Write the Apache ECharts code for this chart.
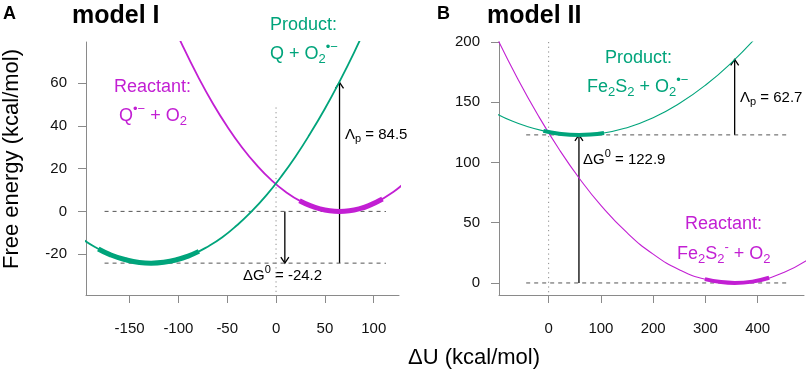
<!DOCTYPE html>
<html>
<head>
<meta charset="utf-8">
<script src="https://cdn.jsdelivr.net/npm/echarts@6/dist/echarts.min.js"></script>
<style>
html, body { margin: 0; padding: 0; background: #fff; }
#chart { width: 809px; height: 372px; }
</style>
</head>
<body>
<div id="chart"></div>
<script>
// ---- model I (panel A) ----
var aProdX = [-200, -185, -170, -155, -140, -128, -115, -100, -85, -70, -55, -40, -25, -10, 5, 20, 35, 50, 65, 80, 95];
var aProdY = [-12.4, -16.8, -20.2, -22.5, -23.9, -24.2, -23.8, -22.4, -20.0, -16.5, -12.1, -6.5, 0.0, 7.5, 16.1, 25.7, 36.4, 48.0, 60.7, 74.4, 89.2];
var aReacX = [-110, -95, -80, -65, -50, -35, -20, -5, 10, 25, 40, 55, 65, 75, 90, 105, 120, 130];
var aReacY = [91.9, 76.8, 63.1, 50.7, 39.7, 30.0, 21.7, 14.7, 9.1, 4.8, 1.9, 0.3, 0, 0.3, 1.9, 4.8, 9.1, 12.7];
var aProdSampX = [-182, -170, -155, -140, -128, -115, -100, -90, -79];
var aProdSampY = [-17.6, -20.2, -22.5, -23.9, -24.2, -23.8, -22.4, -20.9, -18.7];
var aReacSampX = [24, 35, 45, 55, 65, 75, 85, 95, 109];
var aReacSampY = [5.0, 2.7, 1.2, 0.3, 0, 0.3, 1.2, 2.7, 5.8];
var aLevels = [0, -24.2];
var aLevelRange = [-175.6, 112.5];
var aArrows = [[9, 0, -24.2], [65, -24.2, 60.3]];
var aZeroLine = [48.6, -39.1];
var aTicksX = [-150, -100, -50, 0, 50, 100];
var aTicksY = [-20, 0, 20, 40, 60];

// ---- model II (panel B) ----
var bProdX = [-100, -70, -40, -10, 20, 58, 100, 150, 200, 250, 300, 350, 400];
var bProdY = [140.5, 134.4, 129.7, 126.2, 123.9, 122.9, 124.1, 128.9, 137.1, 148.9, 164.1, 182.9, 205.2];
var bReacX = [-100, -60, -20, 20, 60, 100, 150, 200, 250, 300, 356, 400, 450, 495];
var bReacY = [204.4, 170.1, 139.0, 111.0, 86.1, 64.4, 41.7, 23.9, 11.0, 3.1, 0, 1.9, 8.7, 19.0];
var bProdSampX = [-10, 20, 58, 80, 106];
var bProdSampY = [126.2, 123.9, 122.9, 123.2, 124.5];
var bReacSampX = [299, 330, 356, 390, 422];
var bReacSampY = [3.2, 0.7, 0, 1.1, 4.3];
var bLevels = [122.9, 0];
var bLevelRange = [-43, 458];
var bArrows = [[58, 0, 122.9], [356, 122.9, 185.6]];
var bZeroLine = [200, -10];
var bTicksX = [0, 100, 200, 300, 400];
var bTicksY = [0, 50, 100, 150, 200];

var GREEN = '#00a47b';
var PURPLE = '#c21fd3';
var FONT = '"Liberation Sans", Arial, Helvetica, sans-serif';

function zip(xs, ys) {
    return xs.map(function (x, i) { return [x, ys[i]]; });
}

var ctx = document.createElement('canvas').getContext('2d');
function textW(s, size, weight) {
    ctx.font = (weight || 'normal') + ' ' + size + 'px ' + FONT;
    return ctx.measureText(s).width;
}

// text with sub/superscripts built from pieces
function richText(x, y, parts, color, size) {
    var out = [];
    var cx = x;
    parts.forEach(function (p) {
        var fs = size, dy = 0;
        if (p[1] === 'sub') { fs = Math.round(size * 0.72); dy = size * 0.28; }
        if (p[1] === 'sup') { fs = Math.round(size * 0.7); dy = -size * 0.38; }
        out.push({
            type: 'text', x: cx, y: y + dy, silent: true,
            style: {
                text: p[0], fill: color, font: fs + 'px ' + FONT,
                align: 'left', verticalAlign: 'middle',
                textAlign: 'left', textVerticalAlign: 'middle'
            }
        });
        cx += textW(p[0], fs);
    });
    return out;
}

function plainText(x, y, s, size, weight, extra) {
    var el = {
        type: 'text', x: x, y: y, silent: true,
        style: {
            text: s, fill: '#000', font: weight + ' ' + size + 'px ' + FONT,
            align: 'left', verticalAlign: 'middle',
            textAlign: 'left', textVerticalAlign: 'middle'
        }
    };
    if (extra) {
        for (var k in extra) el[k] = extra[k];
    }
    return el;
}

function arrowItem(params, api) {
    var p0 = api.coord([api.value(0), api.value(1)]);
    var p1 = api.coord([api.value(0), api.value(2)]);
    var dir = p1[1] > p0[1] ? 1 : -1;
    var h = 6, w = 4;
    return {
        type: 'group',
        children: [
            { type: 'line', shape: { x1: p0[0], y1: p0[1], x2: p1[0], y2: p1[1] },
              style: { stroke: '#000', lineWidth: 1.3 } },
            { type: 'polyline', shape: { points: [[p1[0] - w, p1[1] - dir * h], [p1[0], p1[1]], [p1[0] + w, p1[1] - dir * h]] },
              style: { stroke: '#000', fill: null, lineWidth: 1.3 } }
        ]
    };
}

function xAxisDef(idx, min, max, ticks) {
    return {
        type: 'value', gridIndex: idx, min: min, max: max,
        axisLine: { show: true, onZero: false, lineStyle: { color: '#8a8a8a', width: 1 } },
        axisTick: { show: true, length: 8, customValues: ticks, lineStyle: { color: '#8a8a8a' } },
        axisLabel: { customValues: ticks, margin: 26, color: '#111', fontSize: 15, fontFamily: FONT, showMinLabel: true, showMaxLabel: true },
        splitLine: { show: false }
    };
}

function yAxisDef(idx, min, max, ticks) {
    return {
        type: 'value', gridIndex: idx, min: min, max: max,
        axisLine: { show: true, onZero: false, lineStyle: { color: '#8a8a8a', width: 1 } },
        axisTick: { show: true, length: 8, customValues: ticks, lineStyle: { color: '#8a8a8a' } },
        axisLabel: { customValues: ticks, margin: 19, color: '#111', fontSize: 15, fontFamily: FONT },
        splitLine: { show: false }
    };
}

function lineSeries(idx, data, color, width, type) {
    return {
        type: 'line', xAxisIndex: idx, yAxisIndex: idx, data: data,
        smooth: true, showSymbol: false, silent: true, clip: true,
        lineStyle: { color: color, width: width, type: type || 'solid' }
    };
}

function levelSeries(idx, levels, range) {
    return levels.map(function (lv) {
        return {
            type: 'line', xAxisIndex: idx, yAxisIndex: idx,
            data: [[range[0], lv], [range[1], lv]],
            showSymbol: false, silent: true,
            lineStyle: { color: '#555', width: 1, type: [4, 4] }
        };
    });
}

function zeroSeries(idx, ys) {
    return {
        type: 'line', xAxisIndex: idx, yAxisIndex: idx,
        data: [[0, ys[0]], [0, ys[1]]],
        showSymbol: false, silent: true,
        lineStyle: { color: '#8a8a8a', width: 1, type: [1.2, 3.5] }
    };
}

function arrowSeries(idx, data) {
    return {
        type: 'custom', xAxisIndex: idx, yAxisIndex: idx, data: data,
        encode: { x: 0, y: [1, 2] }, renderItem: arrowItem, silent: true
    };
}

var myChart = echarts.init(document.getElementById('chart'), null, { renderer: 'canvas' });

var series = [];
series = series.concat(levelSeries(0, aLevels, aLevelRange));
series.push(zeroSeries(0, aZeroLine));
series.push(lineSeries(0, zip(aReacX, aReacY), PURPLE, 1.8));
series.push(lineSeries(0, zip(aProdX, aProdY), GREEN, 1.8));
series.push(lineSeries(0, zip(aReacSampX, aReacSampY), PURPLE, 5));
series.push(lineSeries(0, zip(aProdSampX, aProdSampY), GREEN, 5));
series.push(arrowSeries(0, aArrows));

series = series.concat(levelSeries(1, bLevels, bLevelRange));
series.push(zeroSeries(1, bZeroLine));
series.push(lineSeries(1, zip(bReacX, bReacY), PURPLE, 1.1));
series.push(lineSeries(1, zip(bProdX, bProdY), GREEN, 1.1));
series.push(lineSeries(1, zip(bReacSampX, bReacSampY), PURPLE, 4));
series.push(lineSeries(1, zip(bProdSampX, bProdSampY), GREEN, 4));
series.push(arrowSeries(1, bArrows));

var graphics = [];
graphics.push(plainText(3, 14, 'A', 18, 'bold'));
graphics.push(plainText(72, 16, 'model I', 25, 'bold'));
graphics.push(plainText(437, 14, 'B', 18, 'bold'));
graphics.push(plainText(487, 16, 'model II', 25, 'bold'));
graphics.push({
    type: 'text', x: 12, y: 159, rotation: Math.PI / 2, silent: true,
    style: { text: 'Free energy (kcal/mol)', fill: '#000', font: '22px ' + FONT,
             align: 'center', verticalAlign: 'middle', textAlign: 'center', textVerticalAlign: 'middle' }
});
graphics.push({
    type: 'text', x: 474, y: 358, silent: true,
    style: { text: '\u0394U (kcal/mol)', fill: '#000', font: '22px ' + FONT,
             align: 'center', verticalAlign: 'middle', textAlign: 'center', textVerticalAlign: 'middle' }
});

// panel A labels
graphics = graphics.concat(richText(270, 25, [['Product:', 'n']], GREEN, 18));
graphics = graphics.concat(richText(270, 54, [['Q + O', 'n'], ['2', 'sub'], ['\u2022\u2212', 'sup']], GREEN, 18));
graphics = graphics.concat(richText(114, 87, [['Reactant:', 'n']], PURPLE, 18));
graphics = graphics.concat(richText(119, 116, [['Q', 'n'], ['\u2022\u2212', 'sup'], [' + O', 'n'], ['2', 'sub']], PURPLE, 18));
graphics = graphics.concat(richText(243, 276, [['\u0394G', 'n'], ['0', 'sup'], [' = -24.2', 'n']], '#000', 15));
graphics = graphics.concat(richText(345, 135, [['\u039b', 'n'], ['p', 'sub'], [' = 84.5', 'n']], '#000', 15));

// panel B labels
graphics = graphics.concat(richText(605, 58, [['Product:', 'n']], GREEN, 18));
graphics = graphics.concat(richText(587, 87, [['Fe', 'n'], ['2', 'sub'], ['S', 'n'], ['2', 'sub'], [' + O', 'n'], ['2', 'sub'], ['\u2022\u2212', 'sup']], GREEN, 18));
graphics = graphics.concat(richText(685, 224, [['Reactant:', 'n']], PURPLE, 18));
graphics = graphics.concat(richText(677, 254, [['Fe', 'n'], ['2', 'sub'], ['S', 'n'], ['2', 'sub'], ['-', 'sup'], [' + O', 'n'], ['2', 'sub']], PURPLE, 18));
graphics = graphics.concat(richText(583, 160, [['\u0394G', 'n'], ['0', 'sup'], [' = 122.9', 'n']], '#000', 15));
graphics = graphics.concat(richText(740, 98, [['\u039b', 'n'], ['p', 'sub'], [' = 62.7', 'n']], '#000', 15));

var option = {
    animation: false,
    backgroundColor: '#fff',
    grid: [
        { left: 86, top: 42, width: 313, height: 253 },
        { left: 499, top: 42, width: 305, height: 253 }
    ],
    xAxis: [
        xAxisDef(0, -194.6, 125.9, aTicksX),
        xAxisDef(1, -95, 488.7, bTicksX)
    ],
    yAxis: [
        yAxisDef(0, -39.1, 79.2, aTicksY),
        yAxisDef(1, -10, 200, bTicksY)
    ],
    series: series,
    graphic: { elements: graphics }
};
myChart.setOption(option);
</script>
</body>
</html>
